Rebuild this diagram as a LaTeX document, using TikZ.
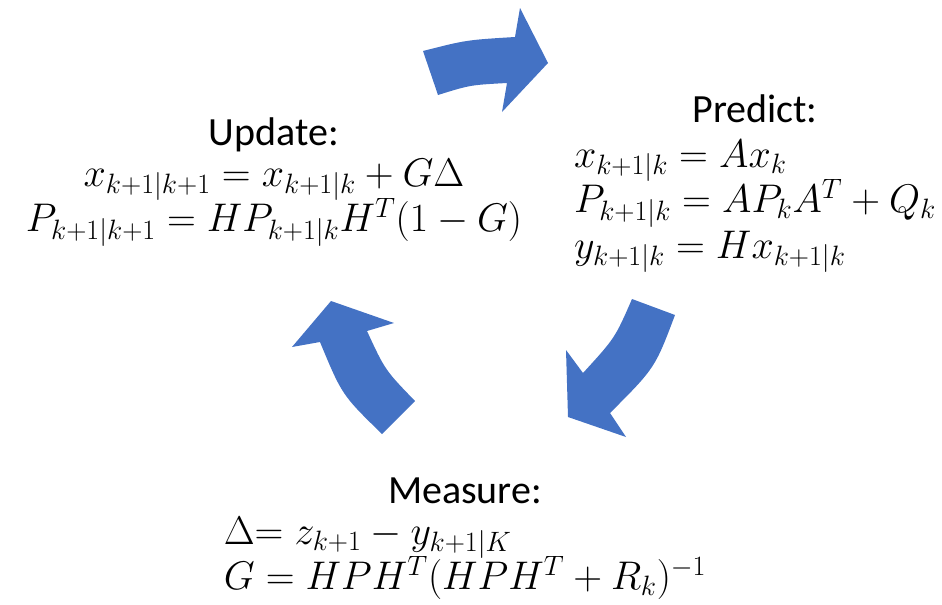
\RequirePackage{fix-cm}
\documentclass[tikz,border=0pt]{standalone}
\usepackage{amsmath}
\usepackage{fontspec}
\setmainfont{Carlito}
\usepackage{tikz}
\usetikzlibrary{positioning}
\definecolor{cycleblue}{HTML}{4472C4}
\newcommand{\eqsize}{\fontsize{30}{34}\selectfont\lineskiplimit -50pt\relax}

\begin{document}
\begin{tikzpicture}[
    x=0.75pt, y=-0.75pt,
    steptitle/.style={
        inner sep=0pt,
        font=\fontsize{30}{34}\selectfont
    },
    eqblock/.style={
        inner sep=0pt,
        font=\eqsize
    },
    blockarrow/.style={fill=cycleblue, draw=none}
]
\useasboundingbox (0,0) rectangle (942,604);

% the three steps
\node[steptitle, anchor=base] (update) at (274,145) {Update:};
\node[eqblock, align=center, below=5.5pt of update] (updateeq)
{$x_{k+1|k+1} = x_{k+1|k} + G\Delta$\\
 $P_{k+1|k+1} = HP_{k+1|k}H^T(1-G)$};

\node[steptitle, anchor=base] (predict) at (755,122) {Predict:};
\node[eqblock, align=left, below=13pt of predict] (predicteq)
{$x_{k+1|k} = Ax_k$\\
 $P_{k+1|k} = AP_kA^T + Q_k$\\
 $y_{k+1|k} = Hx_{k+1|k}$};

\node[steptitle, anchor=base] (measure) at (465,503) {Measure:};
\node[eqblock, align=left, below=10pt of measure] (measureeq)
{$\Delta{=}\; z_{k+1} - y_{k+1|K}$\\
 $G = HPH^T(HPH^T + R_k)^{-1}$};

% block arrows of the cycle
\fill[blockarrow] (423,51) .. controls (466,40) .. (515,37) -- (520,8)
    -- (548,63) -- (502,112) -- (507,83) .. controls (470,85) .. (438,95) -- cycle;

\fill[blockarrow] (632,299) -- (675,315) .. controls (655,368) .. (610,413)
    -- (626,437) -- (568,417) -- (566,350) -- (583,373)
    .. controls (615,338) .. (632,299) -- cycle;

\fill[blockarrow] (415,401) .. controls (385,370) .. (367,331) -- (394,323)
    -- (331,301) -- (292,347) -- (320,342) .. controls (342,395) .. (382,434) -- cycle;

\end{tikzpicture}
\end{document}
